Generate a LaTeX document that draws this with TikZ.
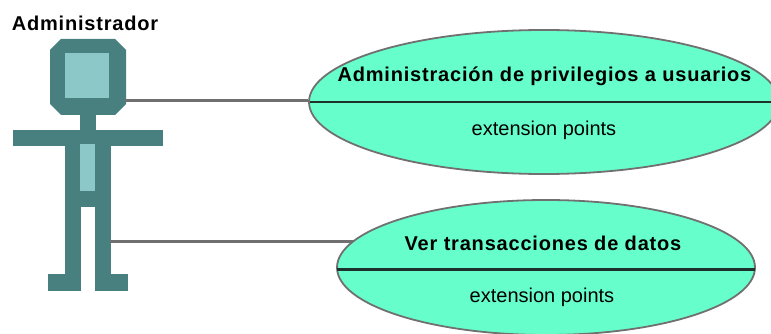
\documentclass[tikz,border=0pt]{standalone}
\usepackage{fontspec}
\setmainfont{Liberation Sans}
\usetikzlibrary{shapes.geometric}
\definecolor{actordark}{RGB}{72,128,128}
\definecolor{actorlight}{RGB}{140,200,200}
\definecolor{ucfill}{RGB}{102,255,204}
\definecolor{linegray}{RGB}{112,112,112}
\definecolor{divider}{RGB}{30,50,45}
\tikzset{
  x=1pt,y=-1pt,
  dark/.style={fill=actordark,draw=none},
  light/.style={fill=actorlight,draw=none},
  usecase/.style={ellipse,draw=linegray,fill=ucfill,line width=1.8pt,inner sep=0pt},
  conn/.style={draw=linegray,line width=2.2pt},
  sep/.style={draw=divider,line width=2.2pt},
  title/.style={font=\fontsize{20}{24}\selectfont\bfseries\addfontfeature{LetterSpace=4},text=black,inner sep=0pt,anchor=center},
  ext/.style={font=\fontsize{20}{24}\selectfont,text=black,inner sep=0pt,anchor=center}
}
\begin{document}
\begin{tikzpicture}
\useasboundingbox (0,0) rectangle (771,334);
\clip (0,0) rectangle (771,334);
% use cases
\node[usecase,minimum width=470pt,minimum height=144pt] (uc1) at (544,102) {};
\node[usecase,minimum width=418pt,minimum height=135pt] (uc2) at (546,267.5) {};
\draw[sep] (310,102) -- (771,102);
\draw[sep] (337,269.5) -- (755,269.5);
\node[title] (t1) at (544.5,76.5) {Administración de privilegios a usuarios};
\node[ext] (e1) at (544,130) {extension points};
\node[title] (t2) at (543,243) {Ver transacciones de datos};
\node[ext] (e2) at (542,297) {extension points};
% actor
\node[title] (actorname) at (85,23) {Administrador};
\fill[dark] (61,39) -- (115,39) -- (126,50) -- (126,104) -- (115,115) -- (61,115) -- (50,104) -- (50,50) -- cycle;
\fill[light] (64.5,53) rectangle (109,98);
\fill[dark] (79.5,115) rectangle (96,130);
\fill[dark] (13,130) rectangle (163,146);
\fill[dark] (64.5,146) rectangle (111,207);
\fill[dark] (64.5,207) rectangle (81,291);
\fill[dark] (94.5,207) rectangle (111,291);
\fill[dark] (48,274) rectangle (81,291);
\fill[dark] (94.5,274) rectangle (127.5,291);
\fill[light] (79.5,144) rectangle (94.5,191);
\coordinate (headside) at (125,100.5);
\coordinate (legside) at (110,241.5);
\coordinate (uc2entry) at (353,241.5);
% connectors
\draw[conn] (headside) -- (headside -| uc1.west);
\draw[conn] (legside) -- (uc2entry);
\end{tikzpicture}
\end{document}
